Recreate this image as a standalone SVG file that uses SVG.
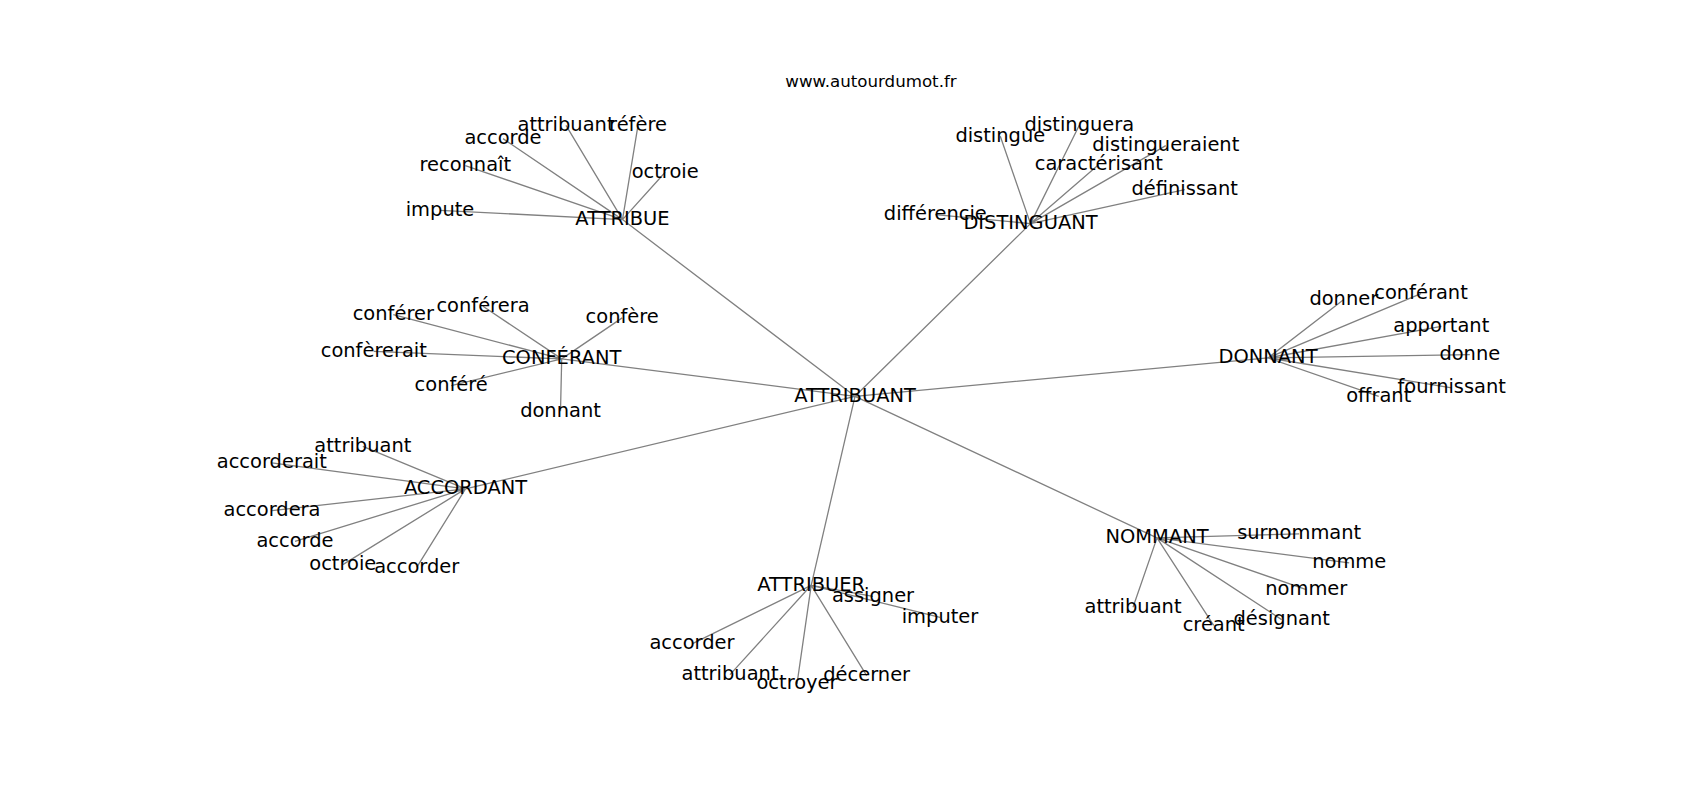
<svg xmlns="http://www.w3.org/2000/svg" width="1700" height="800" viewBox="0 0 1700 800">
<style>
.e{stroke:#808080;stroke-width:1.3;fill:none}
.n{font-family:"DejaVu Sans",sans-serif;font-size:19.44px;fill:#000;text-anchor:middle}
.t{font-family:"DejaVu Sans",sans-serif;font-size:16.67px;fill:#000;text-anchor:middle}
</style>
<rect width="1700" height="800" fill="#fff"/>
<text class="t" x="871" y="87.3">www.autourdumot.fr</text>
<g id="edges">
<path class="e" d="M855 396.3L622.5 219.6M855 396.3L1030.5 223.6M855 396.3L561.7 358.9M855 396.3L1268 357.9M855 396.3L465.5 488.9M855 396.3L811.2 585.3M855 396.3L1157 537.9"/>
<path class="e" d="M622.5 219.6L566 125.3M622.5 219.6L638 125.3M622.5 219.6L503 138.6M622.5 219.6L465.3 165.6M622.5 219.6L665.2 172.3M622.5 219.6L440 210.3"/>
<path class="e" d="M1030.5 223.6L1079.3 125.3M1030.5 223.6L1000.3 136.3M1030.5 223.6L1165.8 145.6M1030.5 223.6L1098.8 164.6M1030.5 223.6L1184.7 189.6M1030.5 223.6L935.3 214.6"/>
<path class="e" d="M561.7 358.9L393.3 314.6M561.7 358.9L483 306.3M561.7 358.9L622.2 317.9M561.7 358.9L373.8 351.3M561.7 358.9L451.2 385.6M561.7 358.9L560.5 411.3"/>
<path class="e" d="M1268 357.9L1343.8 299.6M1268 357.9L1421 293.6M1268 357.9L1441.3 326.3M1268 357.9L1469.8 354.6M1268 357.9L1451.7 387.9M1268 357.9L1378.7 396.3"/>
<path class="e" d="M465.5 488.9L362.8 446.3M465.5 488.9L271.8 462.9M465.5 488.9L272 510.6M465.5 488.9L295 541.3M465.5 488.9L342.8 564.6M465.5 488.9L416.7 567.3"/>
<path class="e" d="M811.2 585.3L873 596.3M811.2 585.3L940 617.3M811.2 585.3L692 643.9M811.2 585.3L730 674.6M811.2 585.3L797 683.9M811.2 585.3L866.7 675.6"/>
<path class="e" d="M1157 537.9L1299.2 533.9M1157 537.9L1349.2 562.9M1157 537.9L1306.3 589.6M1157 537.9L1133 607.3M1157 537.9L1213.7 625.3M1157 537.9L1281.7 619.6"/>
</g>
<g id="n-attribuant-center"><text class="n" x="855" y="401.7">ATTRIBUANT</text></g>
<g id="n-attribue"><text class="n" x="622.5" y="225">ATTRIBUE</text></g>
<g id="n-attribue-attribuant"><text class="n" x="566" y="130.7">attribuant</text></g>
<g id="n-refere"><text class="n" x="638" y="130.7">réfère</text></g>
<g id="n-attribue-accorde"><text class="n" x="503" y="144">accorde</text></g>
<g id="n-reconnait"><text class="n" x="465.3" y="171">reconnaît</text></g>
<g id="n-attribue-octroie"><text class="n" x="665.2" y="177.7">octroie</text></g>
<g id="n-impute"><text class="n" x="440" y="215.7">impute</text></g>
<g id="n-distinguant"><text class="n" x="1030.5" y="229">DISTINGUANT</text></g>
<g id="n-distinguera"><text class="n" x="1079.3" y="130.7">distinguera</text></g>
<g id="n-distingue"><text class="n" x="1000.3" y="141.7">distingue</text></g>
<g id="n-distingueraient"><text class="n" x="1165.8" y="151">distingueraient</text></g>
<g id="n-caracterisant"><text class="n" x="1098.8" y="170">caractérisant</text></g>
<g id="n-definissant"><text class="n" x="1184.7" y="195">définissant</text></g>
<g id="n-differencie"><text class="n" x="935.3" y="220">différencie</text></g>
<g id="n-conferant-hub"><text class="n" x="561.7" y="364.3">CONFÉRANT</text></g>
<g id="n-conferer"><text class="n" x="393.3" y="320">conférer</text></g>
<g id="n-conferera"><text class="n" x="483" y="311.7">conférera</text></g>
<g id="n-confere"><text class="n" x="622.2" y="323.3">confère</text></g>
<g id="n-confererait"><text class="n" x="373.8" y="356.7">confèrerait</text></g>
<g id="n-confere2"><text class="n" x="451.2" y="391">conféré</text></g>
<g id="n-donnant-leaf"><text class="n" x="560.5" y="416.7">donnant</text></g>
<g id="n-donnant"><text class="n" x="1268" y="363.3">DONNANT</text></g>
<g id="n-donner"><text class="n" x="1343.8" y="305">donner</text></g>
<g id="n-conferant-leaf"><text class="n" x="1421" y="299">conférant</text></g>
<g id="n-apportant"><text class="n" x="1441.3" y="331.7">apportant</text></g>
<g id="n-donne"><text class="n" x="1469.8" y="360">donne</text></g>
<g id="n-fournissant"><text class="n" x="1451.7" y="393.3">fournissant</text></g>
<g id="n-offrant"><text class="n" x="1378.7" y="401.7">offrant</text></g>
<g id="n-accordant"><text class="n" x="465.5" y="494.3">ACCORDANT</text></g>
<g id="n-accordant-attribuant"><text class="n" x="362.8" y="451.7">attribuant</text></g>
<g id="n-accorderait"><text class="n" x="271.8" y="468.3">accorderait</text></g>
<g id="n-accordera"><text class="n" x="272" y="516">accordera</text></g>
<g id="n-accordant-accorde"><text class="n" x="295" y="546.7">accorde</text></g>
<g id="n-accordant-octroie"><text class="n" x="342.8" y="570">octroie</text></g>
<g id="n-accordant-accorder"><text class="n" x="416.7" y="572.7">accorder</text></g>
<g id="n-attribuer"><text class="n" x="811.2" y="590.7">ATTRIBUER</text></g>
<g id="n-assigner"><text class="n" x="873" y="601.7">assigner</text></g>
<g id="n-imputer"><text class="n" x="940" y="622.7">imputer</text></g>
<g id="n-attribuer-accorder"><text class="n" x="692" y="649.3">accorder</text></g>
<g id="n-attribuer-attribuant"><text class="n" x="730" y="680">attribuant</text></g>
<g id="n-octroyer"><text class="n" x="797" y="689.3">octroyer</text></g>
<g id="n-decerner"><text class="n" x="866.7" y="681">décerner</text></g>
<g id="n-nommant"><text class="n" x="1157" y="543.3">NOMMANT</text></g>
<g id="n-surnommant"><text class="n" x="1299.2" y="539.3">surnommant</text></g>
<g id="n-nomme"><text class="n" x="1349.2" y="568.3">nomme</text></g>
<g id="n-nommer"><text class="n" x="1306.3" y="595">nommer</text></g>
<g id="n-nommant-attribuant"><text class="n" x="1133" y="612.7">attribuant</text></g>
<g id="n-creant"><text class="n" x="1213.7" y="630.7">créant</text></g>
<g id="n-designant"><text class="n" x="1281.7" y="625">désignant</text></g>
</svg>
